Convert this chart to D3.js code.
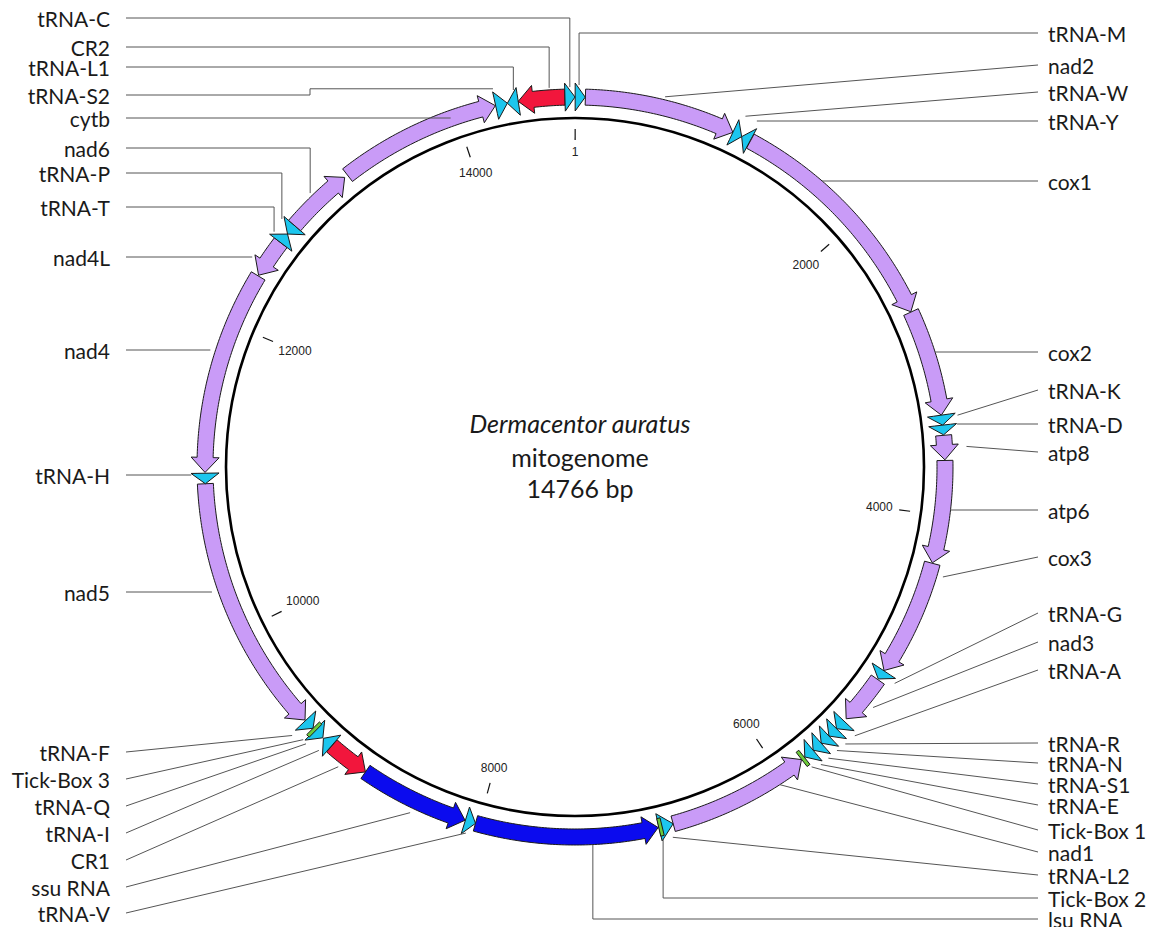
<!DOCTYPE html>
<html>
<head>
<meta charset="utf-8">
<script src="https://cdn.jsdelivr.net/npm/d3@7"></script>
<style>
  body { margin: 0; background: #fff; }
  svg { display: block; }
  .label { font-family: Lato, "Open Sans", sans-serif; font-size: 21px; fill: #1a1a1a; }
  .tick-label { font-family: "Liberation Sans", Arial, sans-serif; font-size: 12px; fill: #222; }
  .title { font-family: Lato, "Open Sans", sans-serif; font-size: 25px; fill: #1a1a1a; }
</style>
</head>
<body>
<svg id="map" width="1152" height="927"></svg>
<script>
// Dermacentor auratus mitogenome - circular map
const genomeLength = 14766;

// features (bp), strand: 1 = clockwise, -1 = counter-clockwise
const featureNames  = ['tRNA-M', 'nad2', 'tRNA-W', 'tRNA-Y', 'cox1', 'cox2', 'tRNA-K', 'tRNA-D', 'atp8', 'atp6',
                       'cox3', 'tRNA-G', 'nad3', 'tRNA-A', 'tRNA-R', 'tRNA-N', 'tRNA-S1', 'tRNA-E', 'Tick-Box 1', 'nad1',
                       'tRNA-L2', 'Tick-Box 2', 'lsu RNA', 'tRNA-V', 'ssu RNA', 'CR1', 'tRNA-I', 'tRNA-Q', 'Tick-Box 3', 'tRNA-F',
                       'nad5', 'tRNA-H', 'nad4', 'nad4L', 'tRNA-T', 'tRNA-P', 'nad6', 'cytb', 'tRNA-S2', 'tRNA-L1',
                       'CR2', 'tRNA-C'];
const featureStart  = [1, 66, 1036, 1098, 1160, 2676, 3361, 3425, 3490, 3650,
                       4310, 5062, 5130, 5470, 5538, 5605, 5672, 5740, 5815, 5835,
                       6752, 6828, 6850, 8023, 8092, 8798, 9070, 9145, 9213, 9232,
                       9305, 10968, 11040, 12355, 12605, 12675, 12745, 13210, 14258, 14334,
                       14404, 14702];
const featureEnd    = [65, 1036, 1098, 1158, 2674, 3361, 3425, 3487, 3646, 4307,
                       5060, 5125, 5450, 5538, 5605, 5672, 5740, 5808, 5830, 6752,
                       6845, 6843, 8023, 8090, 8798, 9068, 9140, 9215, 9228, 9300,
                       10968, 11035, 12350, 12605, 12675, 12745, 13187, 14256, 14334, 14404,
                       14702, 14766];
const featureStrand = [1, 1, 1, -1, 1, 1, 1, 1, 1, 1,
                       1, 1, 1, 1, 1, 1, 1, 1, 1, -1,
                       -1, 1, -1, -1, -1, -1, 1, -1, 1, -1,
                       -1, -1, -1, -1, 1, -1, 1, 1, 1, -1,
                       -1, 1];
const featureType   = ['trna', 'gene', 'trna', 'trna', 'gene', 'gene', 'trna', 'trna', 'gene', 'gene',
                       'gene', 'trna', 'gene', 'trna', 'trna', 'trna', 'trna', 'trna', 'box', 'gene',
                       'trna', 'box', 'rrna', 'trna', 'rrna', 'cr', 'trna', 'trna', 'box', 'trna',
                       'gene', 'trna', 'gene', 'gene', 'trna', 'trna', 'gene', 'gene', 'trna', 'trna',
                       'cr', 'trna'];

const tickValues = [1, 2000, 4000, 6000, 8000, 10000, 12000, 14000];

const titleLines = ['Dermacentor auratus', 'mitogenome', '14766 bp'];

// label layout: text row y, anchor on the map (bp + radius), leader shape
const leftLabels = [
  { name: 'tRNA-C',     y: 18,  bp: 14734, r: 380, mode: 'v' },
  { name: 'CR2',        y: 47,  bp: 14606, r: 380, mode: 'v' },
  { name: 'tRNA-L1',    y: 67,  bp: 14385, r: 382, mode: 'v' },
  { name: 'tRNA-S2',    y: 95,  bp: 14264, r: 387, mode: 'step', elbow: 310 },
  { name: 'cytb',       y: 118, bp: 13991, r: 384, mode: 'h' },
  { name: 'nad6',       y: 148, bp: 12960, r: 381, mode: 'v' },
  { name: 'tRNA-P',     y: 173, bp: 12725, r: 384, mode: 'v' },
  { name: 'tRNA-T',     y: 207, bp: 12634, r: 382, mode: 'v' },
  { name: 'nad4L',      y: 257, bp: 12420, r: 384, mode: 'h' },
  { name: 'nad4',       y: 350, bp: 11805, r: 383, mode: 'h' },
  { name: 'tRNA-H',     y: 475, bp: 11000, r: 384, mode: 'h' },
  { name: 'nad5',       y: 592, bp: 10295, r: 384, mode: 'h' },
  { name: 'tRNA-F',     y: 752, bp: 9290,  r: 390, mode: 'line' },
  { name: 'Tick-Box 3', y: 779, bp: 9225,  r: 385, mode: 'line' },
  { name: 'tRNA-Q',     y: 806, bp: 9195,  r: 386, mode: 'line' },
  { name: 'tRNA-I',     y: 833, bp: 9110,  r: 382, mode: 'line' },
  { name: 'CR1',        y: 860, bp: 8954,  r: 382, mode: 'line' },
  { name: 'ssu RNA',    y: 887, bp: 8429,  r: 383, mode: 'line' },
  { name: 'tRNA-V',     y: 913, bp: 8064,  r: 382, mode: 'line' }
];
const rightLabels = [
  { name: 'tRNA-M',     y: 33,  bp: 25,   r: 382, mode: 'v' },
  { name: 'nad2',       y: 65,  bp: 561,  r: 381, mode: 'line' },
  { name: 'tRNA-W',     y: 92,  bp: 1063, r: 390, mode: 'line' },
  { name: 'tRNA-Y',     y: 121, bp: 1140, r: 390, mode: 'h' },
  { name: 'cox1',       y: 181, bp: 1673, r: 378, mode: 'h' },
  { name: 'cox2',       y: 352, bp: 2966, r: 378, mode: 'h' },
  { name: 'tRNA-K',     y: 390, bp: 3375, r: 386, mode: 'line' },
  { name: 'tRNA-D',     y: 424, bp: 3456, r: 384, mode: 'h' },
  { name: 'atp8',       y: 452, bp: 3568, r: 392, mode: 'line' },
  { name: 'atp6',       y: 510, bp: 3967, r: 378, mode: 'h' },
  { name: 'cox3',       y: 557, bp: 4374, r: 384, mode: 'line' },
  { name: 'tRNA-G',     y: 613, bp: 5090, r: 386, mode: 'line' },
  { name: 'nad3',       y: 642, bp: 5287, r: 383, mode: 'line' },
  { name: 'tRNA-A',     y: 670, bp: 5490, r: 388, mode: 'line' },
  { name: 'tRNA-R',     y: 743, bp: 5566, r: 387, mode: 'line' },
  { name: 'tRNA-N',     y: 763, bp: 5630, r: 386, mode: 'line' },
  { name: 'tRNA-S1',    y: 784, bp: 5700, r: 386, mode: 'line' },
  { name: 'tRNA-E',     y: 805, bp: 5760, r: 386, mode: 'line' },
  { name: 'Tick-Box 1', y: 830, bp: 5813, r: 382, mode: 'line' },
  { name: 'nad1',       y: 852, bp: 6037, r: 378, mode: 'line' },
  { name: 'tRNA-L2',    y: 875, bp: 6776, r: 383, mode: 'line' },
  { name: 'Tick-Box 2', y: 898, bp: 6836, r: 382, mode: 'v' },
  { name: 'lsu RNA',    y: 919, bp: 7272, r: 378, mode: 'v' }
];

const colors = { gene: '#C99BF7', trna: '#1CC6EE', rrna: '#0B0BEE', cr: '#F2163C', box: '#6CCB3A' };

(function() {
  const svg = d3.select('#map');
  const cx = 575, cy = 467;
  const rCircle = 349;
  const rMid = 370, shaftHalf = 8, headHalf = 14, headPx = 15;

  const angle = d3.scaleLinear().domain([0, genomeLength]).range([0, 2 * Math.PI]);

  function pt(a, r) {
    const p = d3.pointRadial(a, r);
    return [cx + p[0], cy + p[1]];
  }

  function arcPts(a0, a1, r) {
    const n = Math.max(1, Math.ceil(Math.abs(a1 - a0) * r / 3));
    return d3.range(n + 1).map(i => pt(a0 + (a1 - a0) * i / n, r));
  }

  function arrowPoints(s, e, strand) {
    const a0 = angle(s), a1 = angle(e);
    const headA = Math.min(headPx / rMid, a1 - a0);
    const rIn = rMid - shaftHalf, rOut = rMid + shaftHalf;
    const hIn = rMid - headHalf, hOut = rMid + headHalf;
    if (strand > 0) {
      const ah = a1 - headA;
      return [...arcPts(a0, ah, rIn), pt(ah, hIn), pt(a1, rMid), pt(ah, hOut), ...arcPts(ah, a0, rOut)];
    }
    const ah = a0 + headA;
    return [pt(a0, rMid), pt(ah, hIn), ...arcPts(ah, a1, rIn), ...arcPts(a1, ah, rOut), pt(ah, hOut)];
  }

  function boxPoints(s, e) {
    const mid = angle((s + e) / 2);
    const half = Math.max(angle(e) - angle(s), 3.5 / rMid) / 2;
    const rIn = rMid - 9, rOut = rMid + 9;
    return [pt(mid - half, rIn), pt(mid + half, rIn), pt(mid + half, rOut), pt(mid - half, rOut)];
  }

  // backbone circle
  svg.append('circle')
    .attr('cx', cx)
    .attr('cy', cy)
    .attr('r', rCircle)
    .attr('fill', 'none')
    .attr('stroke', '#000')
    .attr('stroke-width', 2.6);

  // ticks
  const ticks = svg.append('g').attr('class', 'ticks');
  tickValues.forEach(v => {
    const a = angle(v);
    const p0 = pt(a, 327), p1 = pt(a, 338);
    ticks.append('line')
      .attr('x1', p0[0]).attr('y1', p0[1])
      .attr('x2', p1[0]).attr('y2', p1[1])
      .attr('stroke', '#111')
      .attr('stroke-width', 1.2);
    const t = ticks.append('text')
      .attr('class', 'tick-label')
      .attr('text-anchor', 'middle')
      .attr('dominant-baseline', 'central')
      .text(v);
    const w = t.node().getComputedTextLength();
    const ext = w / 2 * Math.abs(Math.sin(a)) + 6 * Math.abs(Math.cos(a));
    const c = pt(a, 321 - ext);
    t.attr('x', c[0]).attr('y', c[1]);
  });

  // features
  const line = d3.line();
  const feats = svg.append('g').attr('class', 'features');
  featureNames.forEach((name, i) => {
    const type = featureType[i];
    const pts = type === 'box'
      ? boxPoints(featureStart[i], featureEnd[i])
      : arrowPoints(featureStart[i], featureEnd[i], featureStrand[i]);
    feats.append('path')
      .attr('d', line(pts) + 'Z')
      .attr('fill', colors[type])
      .attr('stroke', '#1a1a1a')
      .attr('stroke-width', 1)
      .attr('stroke-linejoin', 'miter');
  });

  // leaders + labels
  const leaders = svg.append('g').attr('class', 'leaders');
  function drawLabel(d, side) {
    const sx = side === 'left' ? 126 : 1038;
    const target = pt(angle(d.bp), d.r);
    let pts;
    if (d.mode === 'h') pts = [[sx, d.y], [target[0], d.y]];
    else if (d.mode === 'v') pts = [[sx, d.y], [target[0], d.y], target];
    else if (d.mode === 'step') pts = [[sx, d.y], [d.elbow, d.y], [d.elbow, target[1]], target];
    else pts = [[sx, d.y], target];
    leaders.append('path')
      .attr('d', line(pts))
      .attr('fill', 'none')
      .attr('stroke', '#555')
      .attr('stroke-width', 1);
    leaders.append('text')
      .attr('class', 'label')
      .attr('x', side === 'left' ? 110 : 1048)
      .attr('y', d.y)
      .attr('text-anchor', side === 'left' ? 'end' : 'start')
      .attr('dominant-baseline', 'central')
      .text(d.name);
  }
  leftLabels.forEach(d => drawLabel(d, 'left'));
  rightLabels.forEach(d => drawLabel(d, 'right'));

  // centre title
  const baselines = [433, 467, 498];
  titleLines.forEach((txt, i) => {
    svg.append('text')
      .attr('class', 'title')
      .attr('x', 580)
      .attr('y', baselines[i])
      .attr('text-anchor', 'middle')
      .attr('font-style', i === 0 ? 'italic' : 'normal')
      .attr('font-size', i === 0 ? '26.5px' : null)
      .text(txt);
  });
})();
</script>
</body>
</html>
